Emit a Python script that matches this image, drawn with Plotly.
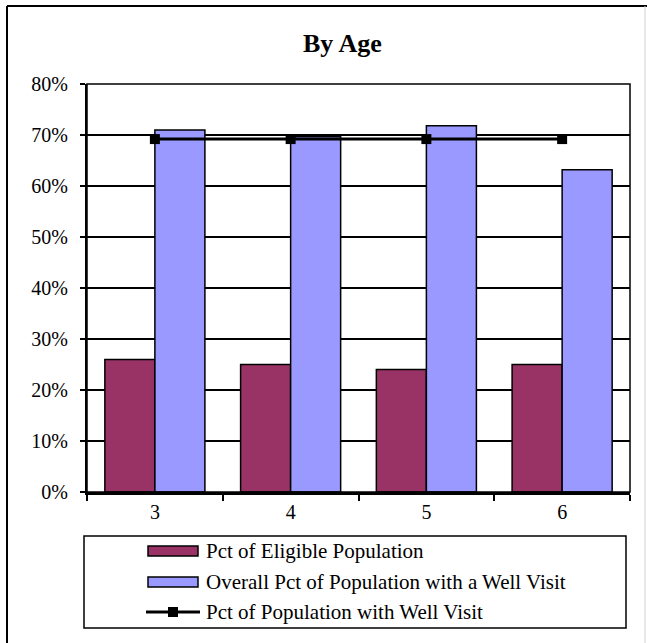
import plotly.graph_objects as go

# Age groups and percentages
ages = ["3", "4", "5", "6"]
pct_eligible = [0.26, 0.25, 0.24, 0.25]
overall_well_visit = [0.71, 0.697, 0.718, 0.632]
pct_well_visit = [0.692, 0.692, 0.692, 0.692]

series_names = [
    "Pct of Eligible Population",
    "Overall Pct of Population with a Well Visit",
    "Pct of Population with Well Visit",
]
series_colors = ["#993366", "#9999FF", "black"]

y_ticks = [0, 0.1, 0.2, 0.3, 0.4, 0.5, 0.6, 0.7, 0.8]
y_tick_text = ["0%", "10%", "20%", "30%", "40%", "50%", "60%", "70%", "80%"]

W, H = 647, 643
L, R, T, B = 87, 630, 84, 492  # plot area edges in px

SERIF = "Liberation Serif"


def px_x(x):
    return (x - L) / (R - L)


def px_y(y):
    return (B - y) / (B - T)


fig = go.Figure()
fig.add_trace(go.Bar(
    x=ages, y=pct_eligible, name=series_names[0],
    marker=dict(color=series_colors[0], line=dict(color="black", width=1.5)),
))
fig.add_trace(go.Bar(
    x=ages, y=overall_well_visit, name=series_names[1],
    marker=dict(color=series_colors[1], line=dict(color="black", width=1.5)),
))
fig.add_trace(go.Scatter(
    x=ages, y=pct_well_visit, name=series_names[2],
    mode="lines+markers",
    line=dict(color="black", width=3),
    marker=dict(symbol="square", size=10, color="black"),
))

# Legend block drawn as a framed box with swatches and labels
shapes = [
    # plot area frame
    dict(type="rect", xref="paper", yref="paper", x0=0, x1=1, y0=0, y1=1,
         line=dict(color="black", width=1.5), layer="above"),
    # legend frame
    dict(type="rect", xref="paper", yref="paper",
         x0=px_x(84), x1=px_x(626), y0=px_y(536), y1=px_y(628),
         line=dict(color="black", width=1.5)),
    # outer chart frame: left and top edges, faint right edge
    dict(type="line", xref="paper", yref="paper",
         x0=px_x(7), x1=px_x(7), y0=px_y(6), y1=px_y(650),
         line=dict(color="black", width=2)),
    dict(type="line", xref="paper", yref="paper",
         x0=px_x(7), x1=px_x(660), y0=px_y(6), y1=px_y(6),
         line=dict(color="black", width=2)),
    dict(type="line", xref="paper", yref="paper",
         x0=px_x(645), x1=px_x(645), y0=px_y(6), y1=px_y(650),
         line=dict(color="#d0d0d0", width=1)),
]
annotations = [
    dict(text="<b>By Age</b>", xref="paper", yref="paper",
         x=px_x(342.5), y=px_y(44), xanchor="center", yanchor="middle",
         showarrow=False, font=dict(family=SERIF, size=26, color="black")),
]
row_y = [551, 582, 612]
for i, (name, color) in enumerate(zip(series_names, series_colors)):
    yc = row_y[i]
    if i < 2:
        shapes.append(dict(type="rect", xref="paper", yref="paper",
                           x0=px_x(148), x1=px_x(198),
                           y0=px_y(yc - 5), y1=px_y(yc + 5),
                           fillcolor=color, line=dict(color="black", width=1.5)))
    else:
        shapes.append(dict(type="line", xref="paper", yref="paper",
                           x0=px_x(146), x1=px_x(200), y0=px_y(yc), y1=px_y(yc),
                           line=dict(color="black", width=3)))
        shapes.append(dict(type="rect", xref="paper", yref="paper",
                           x0=px_x(168), x1=px_x(178),
                           y0=px_y(yc - 5), y1=px_y(yc + 5),
                           fillcolor="black", line=dict(color="black", width=0)))
    annotations.append(dict(text=name, xref="paper", yref="paper",
                            x=px_x(204), y=px_y(yc), xanchor="left", yanchor="middle",
                            showarrow=False,
                            font=dict(family=SERIF, size=21, color="black")))

fig.update_layout(
    width=W, height=H,
    margin=dict(l=L, r=W - R, t=T, b=H - B, autoexpand=False),
    paper_bgcolor="white", plot_bgcolor="white",
    barmode="group", bargap=0.263, bargroupgap=0,
    font=dict(family=SERIF, size=20, color="black"),
    showlegend=False,
    xaxis=dict(
        type="category", range=[-0.5, 3.5],
        showline=True, linecolor="black", linewidth=2.5,
        ticks="outside", tickson="boundaries", ticklen=6, tickcolor="black", tickwidth=2,
        showgrid=False, tickfont=dict(family=SERIF, size=20),
    ),
    yaxis=dict(
        range=[0, 0.8], tickvals=y_ticks, ticktext=y_tick_text,
        showline=True, linecolor="black", linewidth=2,
        ticks="outside", ticklen=5, tickcolor="black", tickwidth=1.5,
        ticklabelstandoff=8,
        showgrid=True, gridcolor="black", gridwidth=1.5,
        zeroline=False, tickfont=dict(family=SERIF, size=20),
    ),
    shapes=shapes,
    annotations=annotations,
)

fig.write_html("out.html")
